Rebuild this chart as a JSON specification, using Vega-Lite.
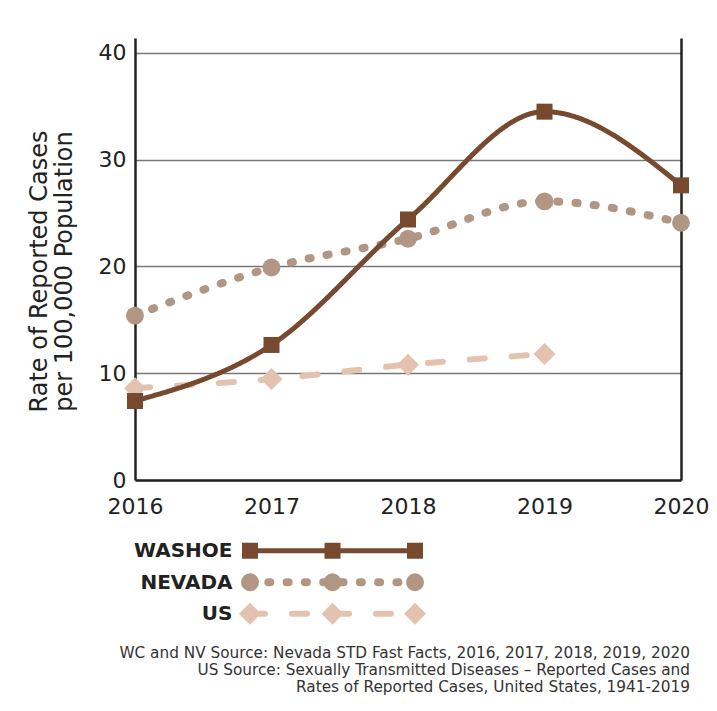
{
  "$schema": "https://vega.github.io/schema/vega-lite/v6.json",
  "background": "white",
  "padding": {"left": 27, "top": 38, "right": 5, "bottom": 5},
  "bounds": "flush",
  "spacing": 55,
  "config": {
    "font": "DejaVu Sans",
    "view": {"stroke": null},
    "axis": {"labelColor": "#222", "titleColor": "#222", "labelFont": "DejaVu Sans", "titleFont": "DejaVu Sans"}
  },
  "title": {
    "text": ["WC and NV Source: Nevada STD Fast Facts, 2016, 2017, 2018, 2019, 2020", "US Source: Sexually Transmitted Diseases – Reported Cases and", "Rates of Reported Cases, United States, 1941-2019"],
    "orient": "bottom",
    "anchor": "end",
    "frame": "bounds",
    "fontSize": 15.3,
    "fontWeight": "normal",
    "font": "DejaVu Sans",
    "color": "#333",
    "lineHeight": 17,
    "offset": 16,
    "dx": -19
  },
  "datasets": {
    "rates": [
      {"series": "US", "year": 2016, "rate": 8.6},
      {"series": "US", "year": 2017, "rate": 9.45},
      {"series": "US", "year": 2018, "rate": 10.8},
      {"series": "US", "year": 2019, "rate": 11.8},
      {"series": "NEVADA", "year": 2016, "rate": 15.4},
      {"series": "NEVADA", "year": 2017, "rate": 19.9},
      {"series": "NEVADA", "year": 2018, "rate": 22.6},
      {"series": "NEVADA", "year": 2019, "rate": 26.1},
      {"series": "NEVADA", "year": 2020, "rate": 24.1},
      {"series": "WASHOE", "year": 2016, "rate": 7.4},
      {"series": "WASHOE", "year": 2017, "rate": 12.65},
      {"series": "WASHOE", "year": 2018, "rate": 24.4},
      {"series": "WASHOE", "year": 2019, "rate": 34.5},
      {"series": "WASHOE", "year": 2020, "rate": 27.6}
    ]
  },
  "vconcat": [
    {
      "width": 546,
      "height": 442,
      "data": {"name": "rates"},
      "layer": [
        {
          "mark": {"type": "line", "interpolate": "monotone", "strokeCap": "round"},
          "encoding": {
            "x": {"field": "year", "type": "quantitative", "scale": {"domain": [2016, 2020], "nice": false, "zero": false},
              "axis": {"values": [2016, 2017, 2018, 2019, 2020], "format": "d", "title": null, "grid": false, "ticks": false, "domainColor": "#222", "domainWidth": 2.5, "labelFontSize": 22, "labelPadding": 16, "labelFlush": false}},
            "y": {"field": "rate", "type": "quantitative", "scale": {"domain": [0, 41.4], "nice": false},
              "axis": {"values": [0, 10, 20, 30, 40], "title": ["Rate of Reported Cases", "per 100,000 Population"], "titleFontSize": 24, "titleFontWeight": "normal", "titleLineHeight": 25, "titlePadding": 22, "titleY": 233, "grid": true, "gridColor": "#777", "gridWidth": 1.5, "ticks": false, "domainColor": "#222", "domainWidth": 2.5, "labelFontSize": 22, "labelPadding": 9}},
            "color": {"field": "series", "type": "nominal", "legend": null, "scale": {"domain": ["WASHOE", "NEVADA", "US"], "range": ["#774a2f", "#b09683", "#e3c3b0"]}},
            "strokeDash": {"field": "series", "type": "nominal", "legend": null, "scale": {"domain": ["WASHOE", "NEVADA", "US"], "range": [[1, 0], [2, 16.3], [15, 27]]}},
            "strokeWidth": {"field": "series", "type": "nominal", "legend": null, "scale": {"type": "ordinal", "domain": ["WASHOE", "NEVADA", "US"], "range": [5, 8, 6]}}
          }
        },
        {
          "mark": {"type": "point", "filled": true, "opacity": 1},
          "encoding": {
            "x": {"field": "year", "type": "quantitative"},
            "y": {"field": "rate", "type": "quantitative", "axis": {"orient": "right", "labels": false, "ticks": false, "grid": false, "title": null, "domainColor": "#222", "domainWidth": 2.5}},
            "color": {"field": "series", "type": "nominal", "legend": null},
            "shape": {"field": "series", "type": "nominal", "legend": null, "scale": {"domain": ["WASHOE", "NEVADA", "US"], "range": ["square", "circle", "diamond"]}},
            "size": {"field": "series", "type": "nominal", "legend": null, "scale": {"type": "ordinal", "domain": ["WASHOE", "NEVADA", "US"], "range": [256, 320, 484]}}
          }
        }
      ],
      "resolve": {"axis": {"y": "independent"}}
    },
    {
      "width": 290,
      "height": 94.5,
      "data": {"name": "rates"},
      "transform": [{"filter": {"field": "year", "oneOf": [2017, 2018, 2019]}}],
      "layer": [
        {
          "mark": {"type": "line", "strokeCap": "round"},
          "encoding": {
            "x": {"field": "year", "type": "quantitative", "axis": null, "scale": {"domain": [2015.606, 2019.121], "nice": false, "zero": false}},
            "y": {"field": "series", "type": "nominal", "sort": ["WASHOE", "NEVADA", "US"],
              "axis": {"title": null, "domain": false, "ticks": false, "grid": false, "labelFontSize": 20, "labelFontWeight": "bold", "labelFont": "DejaVu Sans", "labelColor": "#222", "labelPadding": 0, "offset": -97}},
            "color": {"field": "series", "type": "nominal", "legend": null, "scale": {"domain": ["WASHOE", "NEVADA", "US"], "range": ["#774a2f", "#b09683", "#e3c3b0"]}},
            "strokeDash": {"field": "series", "type": "nominal", "legend": null, "scale": {"domain": ["WASHOE", "NEVADA", "US"], "range": [[1, 0], [2, 16.3], [15, 27]]}},
            "strokeWidth": {"field": "series", "type": "nominal", "legend": null, "scale": {"type": "ordinal", "domain": ["WASHOE", "NEVADA", "US"], "range": [5, 8, 6]}}
          }
        },
        {
          "mark": {"type": "point", "filled": true, "opacity": 1},
          "encoding": {
            "x": {"field": "year", "type": "quantitative"},
            "y": {"field": "series", "type": "nominal", "sort": ["WASHOE", "NEVADA", "US"]},
            "color": {"field": "series", "type": "nominal", "legend": null},
            "shape": {"field": "series", "type": "nominal", "legend": null, "scale": {"domain": ["WASHOE", "NEVADA", "US"], "range": ["square", "circle", "diamond"]}},
            "size": {"field": "series", "type": "nominal", "legend": null, "scale": {"type": "ordinal", "domain": ["WASHOE", "NEVADA", "US"], "range": [256, 320, 484]}}
          }
        }
      ]
    }
  ]
}
